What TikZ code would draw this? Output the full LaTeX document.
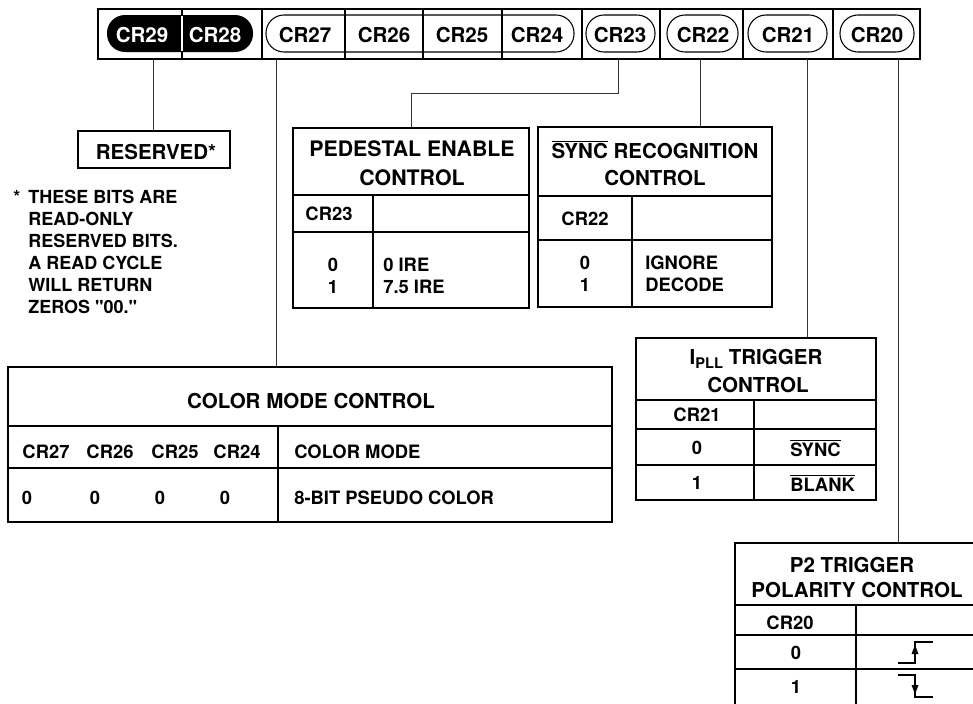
\documentclass[tikz,border=0pt]{standalone}
\usepackage{fontspec}
\setmainfont{TeX Gyre Heros}
\usetikzlibrary{fit}
\newcommand\fT{\fontsize{15.4}{17}\selectfont\bfseries}
\newcommand\fB{\fontsize{13.8}{15}\selectfont\bfseries}
\newcommand\fN{\fontsize{13.5}{16.5}\selectfont\bfseries}
\newcommand\ovl[1]{$\overline{\mbox{#1}}$}
\begin{document}
\begin{tikzpicture}[x=0.75pt,y=-0.75pt]
\useasboundingbox (0,0) rectangle (973,703);
\clip (0,0) rectangle (973,703);
\tikzset{
  frame/.style={draw, line width=1.5pt, inner sep=0pt},
  rule/.style={line width=1.2pt},
  conn/.style={line width=0.75pt, black!80},
  lbl/.style={inner sep=0pt, font=\fT, anchor=base},
  txt/.style={inner sep=0pt, font=\fB, anchor=base},
  txtl/.style={inner sep=0pt, font=\fB, anchor=base west},
  pill/.style={line width=0.8pt, rounded corners=13.5pt},
}
% ---------- register bar ----------
\node[frame, line width=2.2pt, fit={(98,9)(920,59)}] (bar) {};
\foreach \x in {182,262,345,423,502,582,660,743,833}
  \draw[line width=1.8pt] (\x,9) -- (\x,59);
\fill[pill] (107,15) rectangle (253,52);
\draw[white, line width=1.2pt] (182,16) -- (182,51);
\draw[pill] (266,15) rectangle (574,52);
\draw[pill] (586,15) rectangle (655,52);
\draw[pill] (667,15) rectangle (738,52);
\draw[pill] (748,15) rectangle (827,52);
\draw[pill] (840,15) rectangle (914,52);
\node[lbl, white] (t29) at (142,42) {CR29};
\node[lbl, white] (t28) at (215,42) {CR28};
\node[lbl] (t27) at (305,42) {CR27};
\node[lbl] (t26) at (384,42) {CR26};
\node[lbl] (t25) at (462,42) {CR25};
\node[lbl] (t24) at (537,42) {CR24};
\node[lbl] (t23) at (620,42) {CR23};
\node[lbl] (t22) at (703,42) {CR22};
\node[lbl] (t21) at (788,42) {CR21};
\node[lbl] (t20) at (877,42) {CR20};
% ---------- reserved ----------
\node[frame, fit={(78,131)(230,168)}] (res) {};
\node[lbl] (restx) at (156,159) {RESERVED*};
\node[inner sep=0pt, font=\fN, anchor=north west] (star) at (13,190) {*};
\node[inner sep=0pt, font=\fN, anchor=north west, align=left] (note) at (28,190)
  {THESE BITS ARE\\READ-ONLY\\RESERVED BITS.\\A READ CYCLE\\WILL RETURN\\ZEROS \textquotedbl 00.\textquotedbl};
% ---------- pedestal ----------
\node[frame, fit={(293,128)(529,308)}] (ped) {};
\draw[rule] (293,195) -- (529,195) (293,232) -- (529,232) (373,195) -- (373,308);
\node[lbl, font=\fontsize{16}{17}\selectfont\bfseries] (pedA) at (412,156) {PEDESTAL ENABLE};
\node[lbl, font=\fontsize{16}{17}\selectfont\bfseries] (pedB) at (412,185) {CONTROL};
\node[txt] (pedH) at (329,220) {CR23};
\node[txt] (ped0) at (333,271) {0};
\node[txt] (ped1) at (333,293) {1};
\node[txtl] (pedv0) at (383,271) {0 IRE};
\node[txtl] (pedv1) at (383,293) {7.5 IRE};
% ---------- sync ----------
\node[frame, fit={(538,127)(772,307)}] (sync) {};
\draw[rule] (538,196) -- (772,196) (538,240) -- (772,240) (632,196) -- (632,307);
\node[lbl] (syA) at (655,158) {\ovl{SYNC} RECOGNITION};
\node[lbl] (syB) at (655,185) {CONTROL};
\node[txt] (syH) at (585,225) {CR22};
\node[txt] (sy0) at (585,269) {0};
\node[txt] (sy1) at (585,291) {1};
\node[txtl] (syv0) at (645,269) {IGNORE};
\node[txtl] (syv1) at (645,291) {DECODE};
% ---------- ipll ----------
\node[frame, fit={(636,338)(876,500)}] (ipll) {};
\draw[rule] (636,400) -- (876,400) (636,429) -- (876,429) (636,465) -- (876,465) (754,400) -- (754,500);
\node[lbl] (ipA) at (756,364) {I\raisebox{-0.45ex}{\fontsize{11}{11}\selectfont PLL} TRIGGER};
\node[lbl] (ipB) at (758,392) {CONTROL};
\node[txt] (ipH) at (697,421) {CR21};
\node[txt] (ip0) at (697,454) {0};
\node[txt] (ip1) at (697,489) {1};
\node[txtl] (ipv0) at (790,456) {\ovl{SYNC}};
\node[txtl] (ipv1) at (790,491) {\ovl{BLANK}};
% ---------- color mode ----------
\node[frame, fit={(8,367)(612,522)}] (col) {};
\draw[rule] (8,426) -- (612,426) (8,468) -- (612,468) (278,426) -- (278,522);
\node[lbl] (coA) at (311,408) {COLOR MODE CONTROL};
\node[txt] (coH7) at (46,458) {CR27};
\node[txt] (coH6) at (110,458) {CR26};
\node[txt] (coH5) at (175,458) {CR25};
\node[txt] (coH4) at (237,458) {CR24};
\node[txtl] (coHm) at (294,458) {COLOR MODE};
\node[txt] (co7) at (27,504) {0};
\node[txt] (co6) at (95,504) {0};
\node[txt] (co5) at (160,504) {0};
\node[txt] (co4) at (225,504) {0};
\node[txtl] (com) at (294,504) {8-BIT PSEUDO COLOR};
% ---------- p2 ----------
\node[frame, fit={(735,543)(985,712)}] (p2) {};
\draw[rule] (735,605) -- (985,605) (735,635) -- (985,635) (735,669) -- (985,669) (856,605) -- (856,712);
\node[lbl] (p2A) at (852,572) {P2 TRIGGER};
\node[lbl] (p2B) at (857,597) {POLARITY CONTROL};
\node[txt] (p2H) at (790,629) {CR20};
\node[txt] (p20) at (796,659) {0};
\node[txt] (p21) at (796,693) {1};
\draw[line width=0.9pt] (898,663) -- (915,663) -- (915,642) -- (933,642);
\fill (915,645) -- (911.5,654) -- (918.5,654) -- cycle;
\draw[line width=0.9pt] (898,675) -- (915,675) -- (915,697) -- (933,697);
\fill (915,694) -- (911.5,685) -- (918.5,685) -- cycle;
% ---------- connectors ----------
\coordinate (b29) at (153,59);
\coordinate (b27) at (276,59);
\coordinate (b23) at (618,59);
\coordinate (k23) at (618,93);
\coordinate (b22) at (700,59);
\coordinate (b21) at (807,59);
\coordinate (b20) at (898,59);
\draw[conn] (b29) -- (b29 |- res.north);
\draw[conn] (b27) -- (b27 |- col.north);
\draw[conn] (b23) -- (k23) -| (ped.north);
\draw[conn] (b22) -- (b22 |- sync.north);
\draw[conn] (b21) -- (b21 |- ipll.north);
\draw[conn] (b20) -- (b20 |- p2.north);
\end{tikzpicture}
\end{document}
